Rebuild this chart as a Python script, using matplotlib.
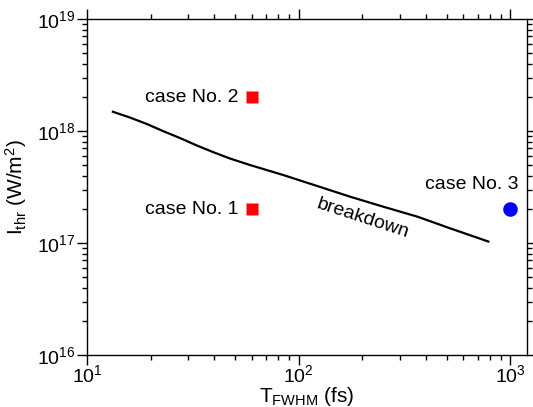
import numpy as np
import matplotlib
matplotlib.use('Agg')
import matplotlib.pyplot as plt

plt.rcParams['font.family'] = 'Liberation Sans'
plt.rcParams['mathtext.fontset'] = 'custom'
plt.rcParams['mathtext.rm'] = 'Liberation Sans'
plt.rcParams['mathtext.it'] = 'Liberation Sans:italic'

# breakdown threshold curve
pulseWidth = [13.27, 15.97, 19.22, 22.87, 27.53, 33.13, 39.42, 47.45, 58.98,
              84.48, 122.3, 175.2, 250.9, 363.3, 520.3, 787]
threshold = [1.487e18, 1.321e18, 1.155e18, 1.0e18, 8.66e17, 7.42e17, 6.49e17, 5.68e17, 4.97e17,
             4.05e17, 3.23e17, 2.59e17, 2.11e17, 1.72e17, 1.35e17, 1.03e17]

# simulated cases
caseNames = ['case No. 1', 'case No. 2', 'case No. 3']
caseWidth = [60, 60, 1000]
caseIntensity = [2e17, 2e18, 2e17]

fig = plt.figure(figsize=(5.33, 4.07), dpi=100)
ax = fig.add_axes([0.163, 0.128, 0.826, 0.825])

ax.plot(pulseWidth, threshold, color='black', lw=1.6)
ax.plot(caseWidth[:2], caseIntensity[:2], 's', color='#ff0000', ms=8.5, mec='none')
ax.plot(caseWidth[2], caseIntensity[2], 'o', color='#0000ff', ms=10.5, mec='none')

ax.text(52, caseIntensity[0], caseNames[0], ha='right', va='center', fontsize=14)
ax.text(52, caseIntensity[1], caseNames[1], ha='right', va='center', fontsize=14)
ax.text(655, 3.3e17, caseNames[2], ha='center', va='center', fontsize=14)
ax.text(202, 1.66e17, 'breakdown', rotation=-18, ha='center', va='center',
        rotation_mode='anchor', fontsize=14)

ax.set_xscale('log')
ax.set_yscale('log')
ax.set_xlim(10, 1200)
ax.set_ylim(1e16, 1e19)

ax.set_xlabel(r'T$_{\rm FWHM}$ (fs)', fontsize=15, labelpad=-1)
ax.set_ylabel(r'I$_{\rm thr}$ (W/m$^2$)', fontsize=15, labelpad=6)

ax.tick_params(which='both', direction='out', top=True, right=True, labelsize=14)
ax.tick_params(which='major', length=7, width=1, pad=1)
ax.tick_params(which='minor', length=3.5, width=1)
ax.tick_params(axis='x', which='major', pad=0)
for s in ax.spines.values():
    s.set_linewidth(1)

fig.savefig('out.png', dpi=100)
